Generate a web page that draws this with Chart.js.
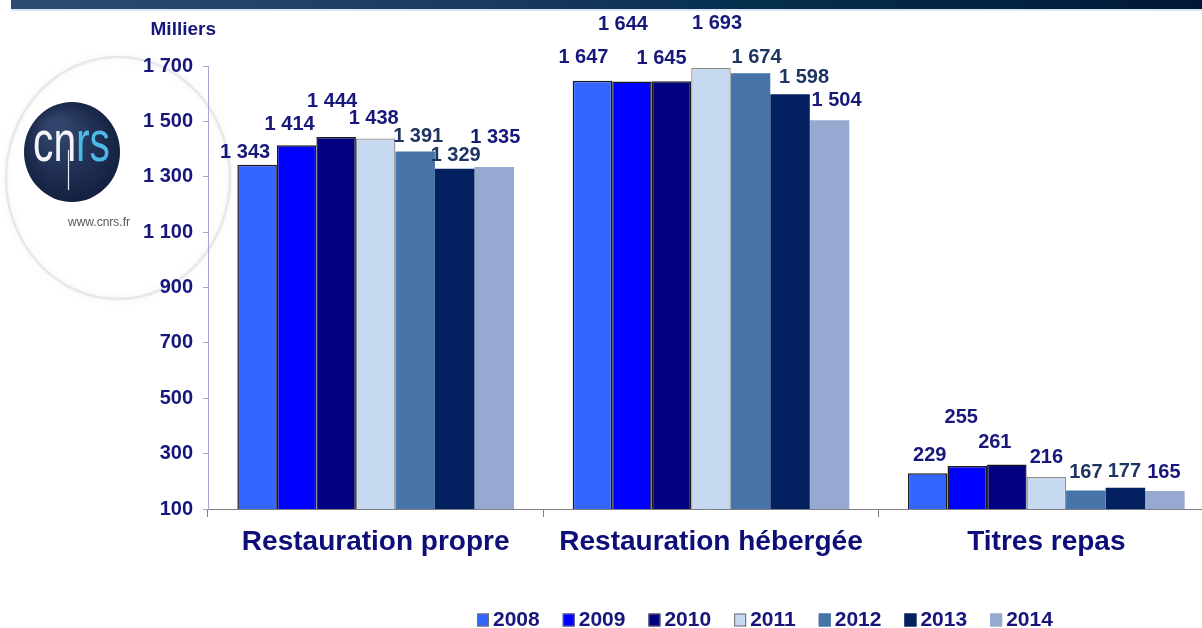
<html lang="fr">
<head>
    <meta charset="UTF-8">
    <title>Restauration - CNRS</title>
    <script src="https://cdn.jsdelivr.net/npm/chart.js@4.4.1/dist/chart.umd.min.js"></script>
    <style>
        html, body { margin: 0; padding: 0; background: #fff; overflow: hidden; }
        #wrap { position: relative; width: 1202px; height: 628px; overflow: hidden; }
        #topband {
            position: absolute; left: 11px; top: 0; width: 1191px; height: 9px;
            background: linear-gradient(to right, #2c4c72, #1c3a5e 40%, #06304f 60%, #021838);
            border-bottom: 2px solid #d6e6f4;
        }
        #graph { position: absolute; left: 0; top: 0; }
    </style>
</head>
<body>
<div id="wrap">
    <canvas id="graph" width="1220" height="628"></canvas>
    <div id="topband"></div>
</div>

<script>
    const categories = ['Restauration propre', 'Restauration hébergée', 'Titres repas'];
    const years = ['2008', '2009', '2010', '2011', '2012', '2013', '2014'];

    const v2008 = [1343, 1647, 229];
    const v2009 = [1414, 1644, 255];
    const v2010 = [1444, 1645, 261];
    const v2011 = [1438, 1693, 216];
    const v2012 = [1391, 1674, 167];
    const v2013 = [1329, 1598, 177];
    const v2014 = [1335, 1504, 165];
    const values = [v2008, v2009, v2010, v2011, v2012, v2013, v2014];

    const yMin = 100, yMax = 1700, yStep = 200;

    const fill = ['#3366ff', '#0000ff', '#000080', '#c6d9f1', '#4774a8', '#032160', '#95a9d1'];
    const edge = ['#1a1a1a', '#1a1a1a', '#1a1a1a', '#8c8c8c', '#4774a8', '#032160', '#95a9d1'];
    const edgeW = [1.5, 1.5, 1.5, 1.3, 0, 0, 0];
    const labelInk = ['#17177c', '#17177c', '#17177c', '#17177c', '#1f3561', '#1f3561', '#17177c'];

    // Excel staggered the value labels; rise = px from bar top to label centre, shift = px sideways
    const labelRise = [[12, 23, 18], [21, 57, 49], [35, 23, 22], [20, 44, 19], [15, 16, 18], [13, 17, 16], [30, 20, 19]];
    const labelShift = [[-12, -9, 2], [-7, -9, -6], [-4, -10, -12], [-2, 6, 0], [3, 6, 0], [1, 14, -1], [1, 7, -1]];

    const FONT = '"Liberation Sans", Arial, sans-serif';
    const NAVY = '#16167c';

    function fmt(v) {
        return String(v).replace(/\B(?=(\d{3})+(?!\d))/g, ' ');
    }

    // cnrs logo behind the chart
    const logoPlugin = {
        id: 'logo',
        beforeDraw(chart) {
            const ctx = chart.ctx;
            ctx.save();
            // faint halo
            ctx.beginPath();
            ctx.ellipse(118, 178, 112, 121, 0, 0, Math.PI * 2);
            ctx.strokeStyle = 'rgba(215,215,224,0.55)';
            ctx.lineWidth = 2.5;
            ctx.shadowColor = 'rgba(200,200,210,0.5)';
            ctx.shadowBlur = 6;
            ctx.stroke();
            ctx.shadowBlur = 0;
            // dark disc
            const g = ctx.createRadialGradient(55, 125, 5, 72, 152, 55);
            g.addColorStop(0, '#33476e');
            g.addColorStop(1, '#111d3d');
            ctx.beginPath();
            ctx.ellipse(72, 152, 48, 50, 0, 0, Math.PI * 2);
            ctx.fillStyle = g;
            ctx.fill();
            // letters
            ctx.font = '58px "Liberation Sans", sans-serif';
            ctx.textBaseline = 'alphabetic';
            const wCn = ctx.measureText('cn').width;
            const wAll = ctx.measureText('cnrs').width;
            const sx = 77 / wAll;
            ctx.save();
            ctx.translate(33, 161);
            ctx.scale(sx, 1);
            ctx.fillStyle = '#f2f4f8';
            ctx.fillText('cn', 0, 0);
            ctx.fillStyle = '#4fb9e6';
            ctx.fillText('rs', wCn, 0);
            ctx.restore();
            ctx.beginPath();
            ctx.moveTo(68.5, 150);
            ctx.lineTo(68.5, 190);
            ctx.strokeStyle = '#e6e9f0';
            ctx.lineWidth = 1.2;
            ctx.stroke();
            ctx.font = '12px ' + FONT;
            ctx.fillStyle = '#555555';
            ctx.textAlign = 'left';
            ctx.textBaseline = 'middle';
            ctx.fillText('www.cnrs.fr', 68, 223);
            ctx.restore();
        }
    };

    const labelPlugin = {
        id: 'valueLabels',
        afterDatasetsDraw(chart) {
            const ctx = chart.ctx;
            ctx.save();
            ctx.font = 'bold 20px ' + FONT;
            ctx.textAlign = 'center';
            ctx.textBaseline = 'middle';
            chart.data.datasets.forEach((ds, d) => {
                chart.getDatasetMeta(d).data.forEach((bar, i) => {
                    ctx.fillStyle = labelInk[d];
                    ctx.fillText(fmt(ds.data[i]), bar.x + labelShift[d][i], bar.y - labelRise[d][i]);
                });
            });
            // unit above the y axis
            ctx.textAlign = 'right';
            ctx.font = 'bold 19px ' + FONT;
            ctx.fillStyle = NAVY;
            ctx.fillText('Milliers', 216, 30);
            ctx.restore();
        }
    };

    const legendPlugin = {
        id: 'bottomLegend',
        afterDraw(chart) {
            const ctx = chart.ctx;
            ctx.save();
            ctx.font = 'bold 21px ' + FONT;
            ctx.textBaseline = 'middle';
            ctx.textAlign = 'left';
            let x = 477;
            const y = 620;
            chart.data.datasets.forEach((ds, d) => {
                ctx.fillStyle = ds.backgroundColor;
                ctx.fillRect(x, y - 6.5, 12, 13);
                ctx.strokeStyle = d < 4 ? '#6e6e6e' : ds.backgroundColor;
                ctx.lineWidth = 1;
                ctx.strokeRect(x + 0.5, y - 6, 11, 12);
                ctx.fillStyle = NAVY;
                ctx.fillText(ds.label, x + 16, y);
                x += 16 + ctx.measureText(ds.label).width + 23;
            });
            ctx.restore();
        }
    };

    const ctx = document.getElementById('graph').getContext('2d');
    new Chart(ctx, {
        type: 'bar',
        data: {
            labels: categories,
            datasets: years.map((y, d) => ({
                label: y,
                data: values[d],
                backgroundColor: fill[d],
                borderColor: edge[d],
                borderWidth: edgeW[d],
                borderSkipped: false,
                categoryPercentage: 0.825,
                barPercentage: 1.0
            }))
        },
        options: {
            responsive: false,
            animation: false,
            layout: { padding: { top: 66, right: 6, left: 0, bottom: 0 } },
            plugins: {
                legend: { display: false },
                tooltip: { enabled: false }
            },
            scales: {
                x: {
                    afterFit(scale) { scale.height = 119; },
                    grid: { offset: true, drawOnChartArea: false, tickLength: 8, color: '#808080' },
                    border: { color: '#808080', width: 1 },
                    ticks: {
                        color: '#0e0e78',
                        font: { family: FONT, size: 28, weight: 'bold' },
                        padding: 8,
                        maxRotation: 0
                    }
                },
                y: {
                    min: yMin,
                    max: yMax,
                    afterFit(scale) { scale.width = 208; },
                    grid: { drawOnChartArea: false, tickLength: 5, color: '#a3a3d6' },
                    border: { color: '#a3a3d6', width: 1 },
                    ticks: {
                        stepSize: yStep,
                        color: NAVY,
                        font: { family: FONT, size: 20, weight: 'bold' },
                        padding: 10,
                        callback: v => fmt(v)
                    }
                }
            }
        },
        plugins: [logoPlugin, labelPlugin, legendPlugin]
    });
</script>
</body>
</html>
